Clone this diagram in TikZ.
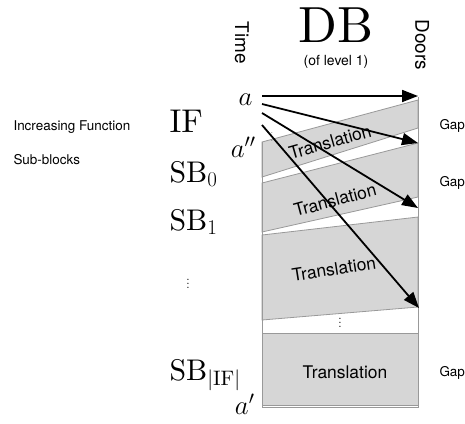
\RequirePackage{fix-cm}
\documentclass[tikz,border=0pt]{standalone}
\usepackage{fontspec}
\setmainfont{lmroman10-regular.otf}
\setsansfont{TeX Gyre Heros}
\usetikzlibrary{arrows.meta}

\tikzset{
    band/.style={fill=gray!32, draw=black!40, line width=0.8bp},
    edge/.style={draw=black!40, line width=0.8bp},
    shot/.style={line width=1.8bp, -{Triangle[length=16bp,width=12bp]}},
    note/.style={font=\sffamily\fontsize{13.5}{13.5}\selectfont},
    trans/.style={font=\sffamily\fontsize{17.5}{17.5}\selectfont},
    big/.style={font=\fontsize{30}{30}\selectfont, anchor=base west},
    time/.style={font=\fontsize{27}{27}\selectfont, anchor=base east},
}

\begin{document}
\begin{tikzpicture}[x=1bp, y=-1bp]
        \useasboundingbox (0,0) rectangle (465,423);
        % Left and right edges of the block
        \def\L{262}
        \def\R{418}

        % Draw the translated bands
        \draw[band] (\L,142) -- (\R,100) -- (\R,128) -- (\L,177) -- cycle;
        \draw[band] (\L,183) -- (\R,143) -- (\R,197) -- (\L,232) -- cycle;
        \draw[band] (\L,235) -- (\R,217) -- (\R,307) -- (\L,320) -- cycle;
        \draw[band] (\L,333) rectangle (\R,405);
        \draw[edge] (\L,142) -- (\L,407) -- (\R,407) -- (\R,97);

        % Label the bands
        \node[trans, rotate=16] (T1) at (330,142) {Translation};
        \node[trans, rotate=15] (T2) at (335,200) {Translation};
        \node[trans, rotate=9] (T3) at (334,269) {Translation};
        \node[trans] (T4) at (345,372) {Translation};
        \node[font=\fontsize{8}{8}\selectfont] (dA) at (272,134) {$\vdots$};
        \node[font=\fontsize{12}{12}\selectfont] (dB) at (340,320) {$\vdots$};

        % Start and end points of the arrows
        \coordinate (S_1) at (\L,96);
        \coordinate (S_2) at (\L,104);
        \coordinate (S_3) at (\L,113);
        \coordinate (S_4) at (\L,125);
        \coordinate (E_1) at (\R,96);
        \coordinate (E_2) at (\R,143);
        \coordinate (E_3) at (\R,208);
        \coordinate (E_4) at (\R+1,308);

        % Draw the arrows
        \foreach \i in {1,...,4}
            \draw[shot] (S_\i) -- (E_\i);

        % Title and axes
        \node[font=\fontsize{51}{51}\selectfont, anchor=base, inner sep=0pt] (DB) at (336,42) {DB};
        \node[font=\sffamily\fontsize{14}{14}\selectfont] (lvl) at (336,62) {(of level 1)};
        \node[font=\sffamily\fontsize{19}{19}\selectfont, rotate=-90] (time) at (242,43) {Time};
        \node[font=\sffamily\fontsize{19}{19}\selectfont, rotate=-90] (doors) at (422,45) {Doors};

        % Times on the left of the block
        \node[time] (a) at (256,105) {$a$};
        \node[time] (a2) at (259,157) {$a''$};
        \node[time] (a1) at (258,414) {$a'$};

        % Sub-block column
        \node[big, font=\fontsize{33}{33}\selectfont] (IF) at (166,132) {$\mathrm{IF}$};
        \node[big] (SB0) at (166,182) {$\mathrm{SB}_0$};
        \node[big] (SB1) at (166,230) {$\mathrm{SB}_1$};
        \node[font=\fontsize{12}{12}\selectfont] (dC) at (188,281) {$\vdots$};
        \node[big] (SBn) at (166,380) {$\mathrm{SB}_{|\mathrm{IF}|}$};

        % Names on the far left
        \node[note, anchor=west] (incr) at (10,127) {Increasing Function};
        \node[note, anchor=west] (subb) at (10,160) {Sub-blocks};

        % Gaps on the right
        \node[note, anchor=west] (gap1) at (436,126) {Gap};
        \node[note, anchor=west] (gap2) at (436,183) {Gap};
        \node[note, anchor=west] (gap3) at (436,373) {Gap};
\end{tikzpicture}
\end{document}
